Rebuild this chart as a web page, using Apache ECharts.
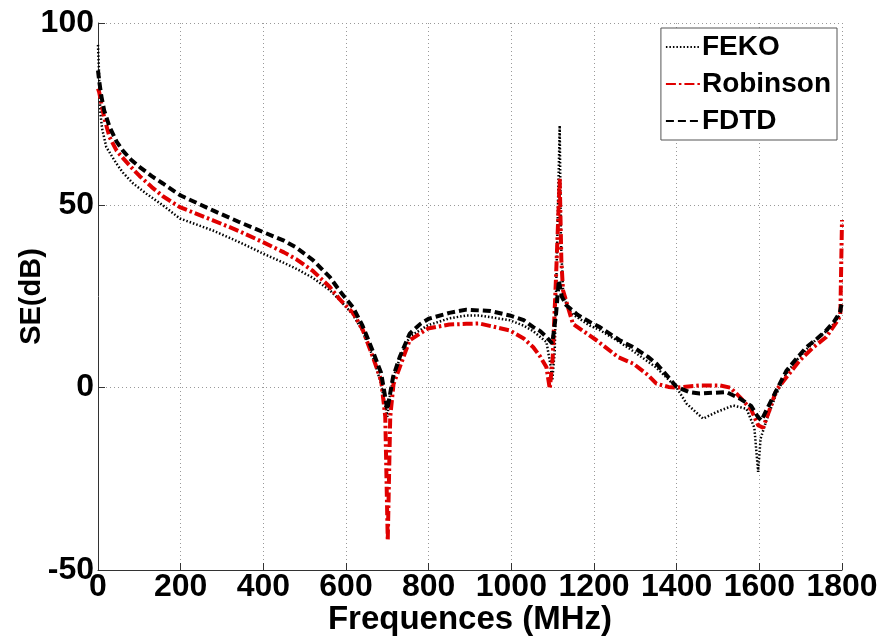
<!DOCTYPE html>
<html>
<head>
<meta charset="utf-8">
<script src="https://cdn.jsdelivr.net/npm/echarts@6/dist/echarts.min.js"></script>
<style>
  html, body { margin: 0; padding: 0; background: #fff; }
  #chart { width: 878px; height: 636px; }
</style>
</head>
<body>
<div id="chart"></div>
<script>
// Shielding effectiveness SE(dB) versus frequency (MHz), three methods.
const feko_f = [0, 2, 4, 6, 10, 20, 36, 45, 60, 85, 117, 157, 198, 278, 340, 399, 450, 480, 520, 561, 585, 617, 640, 665, 685, 695, 700, 705, 715, 730, 754, 798, 850, 891, 923, 996, 1030, 1053, 1085, 1095, 1099, 1105, 1111, 1117, 1120, 1125, 1135, 1150, 1190, 1214, 1262, 1295, 1351, 1400, 1424, 1464, 1496, 1537, 1569, 1588, 1597, 1603, 1617, 1640, 1666, 1690, 1714, 1740, 1762, 1780, 1795, 1800];
const feko_se = [94, 88, 80, 75, 71, 66, 63, 61.4, 59, 56, 53.2, 50, 46.4, 43.1, 40, 36.8, 34.2, 32.6, 30.1, 26.7, 24, 20, 15.5, 8.5, 1, -5, -8, -3, 3, 8, 14, 17.1, 19, 19.8, 19.8, 18.5, 17, 15.5, 12.5, 6, 2, 10, 40, 71.9, 40, 27, 22, 20, 17, 15.8, 12.5, 10, 5.5, 0, -4.4, -8.5, -6.7, -4.9, -5.8, -11, -23.1, -14, -9, -2, 4, 7.5, 10.5, 13.5, 15.5, 17.5, 20, 22];

const rob_f = [0, 3, 8, 15, 28, 45, 60, 80, 101, 130, 157, 198, 278, 340, 399, 450, 480, 520, 561, 585, 617, 640, 665, 685, 695, 701, 707, 715, 730, 754, 798, 850, 891, 923, 996, 1030, 1053, 1070, 1085, 1093, 1100, 1108, 1117, 1121, 1125, 1149, 1206, 1258, 1295, 1330, 1351, 1380, 1400, 1456, 1505, 1530, 1553, 1580, 1597, 1609, 1625, 1641, 1670, 1698, 1730, 1762, 1790, 1796, 1800];
const rob_se = [82, 81, 78, 74, 68.7, 65, 63, 60.5, 58, 55, 52.5, 49.5, 45.9, 43, 39.9, 37.1, 35.2, 32, 27.6, 24.2, 20.5, 16, 8.4, 2, -8, -42, -8, 1, 5.6, 13, 16.2, 17.3, 17.5, 17.6, 15.7, 13.5, 11.1, 8.5, 5.6, -0.3, 8, 30, 57.3, 35, 26.7, 17.5, 13, 8.4, 6.6, 3.5, 1.1, 0.2, 0, 0.6, 0.6, 0, -2.6, -6, -10.3, -11, -6, -0.7, 3.5, 7.5, 11, 13.9, 18.5, 20, 46];

const fdtd_f = [0, 3, 8, 15, 28, 45, 60, 80, 101, 130, 157, 200, 278, 340, 399, 450, 480, 520, 561, 585, 617, 640, 665, 685, 700, 714, 730, 754, 780, 800, 850, 891, 950, 996, 1030, 1053, 1070, 1085, 1099, 1108, 1115, 1122, 1133, 1160, 1190, 1214, 1262, 1295, 1330, 1351, 1375, 1400, 1430, 1456, 1490, 1520, 1553, 1580, 1597, 1605, 1617, 1640, 1666, 1690, 1714, 1740, 1762, 1780, 1795, 1800];
const fdtd_se = [87, 84, 80, 76, 71.5, 67.5, 65, 62.5, 60.5, 58, 56, 52.7, 48.6, 45.5, 42.7, 40.3, 38.4, 35, 30.3, 26.5, 22, 17, 10, 4, -6, 3, 8.4, 14.8, 17.5, 18.9, 20.5, 21.4, 21, 19.8, 18.5, 16.6, 15.5, 13.9, 12.1, 20, 29.4, 25, 22.6, 20, 18, 16.6, 13, 11.1, 8.5, 6.6, 3.5, 0.2, -1.2, -1.6, -1.4, -1.2, -3, -5, -8.1, -9, -6.2, -1, 4.7, 8, 11.1, 13.5, 15.7, 18, 20.7, 23.5];

const xTicks = { min: 0, max: 1800, step: 200 };
const yTicks = { min: -50, max: 100, step: 50 };

const pairs = (xs, ys) => xs.map((x, i) => [x, ys[i]]);
const FONT = '"Liberation Sans", Arial, sans-serif';

const chart = echarts.init(document.getElementById('chart'), null, { renderer: 'canvas' });

const axisCommon = {
  axisLine: { show: true, onZero: false, lineStyle: { color: '#333', width: 1 } },
  axisTick: { show: true, inside: true, length: 7, lineStyle: { color: '#333' } },
  splitLine: { show: true, lineStyle: { color: '#999', width: 1, type: [1, 3] } },
  nameMoveOverlap: false,
  axisLabel: {
    color: '#000', fontFamily: FONT, fontWeight: 'bold', fontSize: 32,
    showMinLabel: true, showMaxLabel: true, hideOverlap: false,
    formatter: v => String(v)
  }
};

chart.setOption({
  animation: false,
  backgroundColor: '#fff',
  grid: { left: 98, right: 36, top: 23, bottom: 66, containLabel: false, outerBoundsMode: 'none' },
  xAxis: Object.assign({}, axisCommon, {
    type: 'value',
    min: xTicks.min, max: xTicks.max, interval: xTicks.step,
    name: 'Frequences (MHz)',
    nameLocation: 'middle',
    nameGap: 33,
    nameTextStyle: { color: '#000', fontFamily: FONT, fontWeight: 'bold', fontSize: 33 },
    axisLabel: Object.assign({}, axisCommon.axisLabel, { margin: 1 })
  }),
  yAxis: Object.assign({}, axisCommon, {
    type: 'value',
    min: yTicks.min, max: yTicks.max, interval: yTicks.step,
    name: 'SE(dB)',
    nameLocation: 'middle',
    nameGap: 52,
    nameTextStyle: { color: '#000', fontFamily: FONT, fontWeight: 'bold', fontSize: 29 },
    axisLabel: Object.assign({}, axisCommon.axisLabel, { margin: 4 })
  }),
  legend: {
    orient: 'vertical',
    right: 41,
    top: 28,
    padding: [2, 6, 2, 4],
    itemGap: 3,
    itemWidth: 35,
    itemHeight: 14,
    backgroundColor: '#fff',
    borderColor: '#555',
    borderWidth: 1,
    borderRadius: 0,
    itemStyle: { opacity: 0 },
    textStyle: { color: '#000', fontFamily: FONT, fontWeight: 'bold', fontSize: 28, lineHeight: 34, padding: [0, 0, 0, -4] },
    data: ['FEKO', 'Robinson', 'FDTD']
  },
  series: [
    {
      name: 'FEKO', type: 'line', data: pairs(feko_f, feko_se),
      symbol: 'none', smooth: false, z: 3,
      itemStyle: { color: '#000' },
      lineStyle: { color: '#000', width: 2.5, type: [1.5, 2] }
    },
    {
      name: 'Robinson', type: 'line', data: pairs(rob_f, rob_se),
      symbol: 'none', smooth: false, z: 4,
      itemStyle: { color: '#e00000' },
      lineStyle: { color: '#e00000', width: 4, type: [10, 3, 2.5, 3] }
    },
    {
      name: 'FDTD', type: 'line', data: pairs(fdtd_f, fdtd_se),
      symbol: 'none', smooth: false, z: 5,
      itemStyle: { color: '#000' },
      lineStyle: { color: '#000', width: 4, type: [8, 4] }
    }
  ]
});
</script>
</body>
</html>
